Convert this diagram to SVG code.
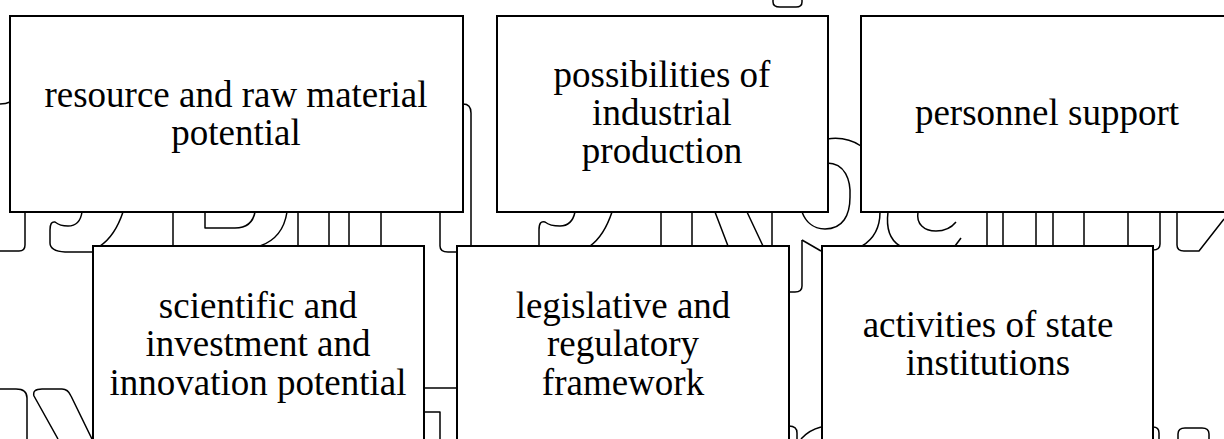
<svg xmlns="http://www.w3.org/2000/svg" width="1224" height="439" viewBox="0 0 1224 439">
<style>
.bg{fill:none;stroke:#000;stroke-width:1.5;stroke-linejoin:round;stroke-linecap:butt}
.box{fill:#fff;stroke:#000;stroke-width:2}
.lbl{font-family:"Liberation Serif","Times New Roman",serif;font-size:37px;fill:#000;text-anchor:middle}
</style>
<rect width="1224" height="439" fill="#fff"/>
<g id="background-letters" class="bg">
<path d="M0,104 Q6,104 10,102"/>
<path d="M25,212 L25,245 Q25,251 19,251 L0,251"/>
<path d="M82,212 Q80,226 68,226 Q60,226 55,222 Q50,221 50,230 L50,243 Q50,251 65,252 L93,252"/>
<path d="M123,212 Q115,236 100,246"/>
<path d="M173,212 L173,246"/>
<path d="M205,212 L205,228 L235,228 Q252,228 255,212"/>
<path d="M287,212 Q283,238 260,246"/>
<path d="M298,212 L298,246 M329,212 L329,246 M349,212 L349,246 M381,212 L381,246"/>
<path d="M440,212 L440,246 Q440,252 448,252 L457,252"/>
<path d="M463,104 Q471,104 471,113 L471,246"/>
<path d="M575,212 Q572,226 560,226 Q550,226 545,222 Q539,220 539,230 L539,246"/>
<path d="M612,212 Q604,236 590,246"/>
<path d="M661,212 L661,246 M692,212 L692,246"/>
<path d="M715,212 L728,246 M747,212 L763,246"/>
<path d="M772,212 L772,246"/>
<path d="M773,0 L773,2 Q773,7 780,7 L796,7 Q802,7 802,2 L802,0"/>
<path d="M827,139 C840,137 852,140 861,146"/>
<path d="M827,163 C845,163 851,180 850,197 C850,215 843,229 825,229 C812,229 805,220 802,212"/>
<path d="M880,212 C880,230 872,240 862,246"/>
<path d="M888,212 C886,228 890,240 900,246"/>
<path d="M918,212 C916,224 924,231 936,231 C945,231 952,227 956,222"/>
<path d="M961,238 L955,246"/>
<path d="M987,212 L987,246 M1003,212 L1003,246 M1036,212 L1036,246 M1053,212 L1053,246 M1084,212 L1084,246 M1128,212 L1128,246"/>
<path d="M1160,212 L1160,244 Q1160,250 1153,250"/>
<path d="M1177,212 L1177,245 Q1177,251 1184,251 L1199,251 L1224,219"/>
<path d="M802,240 L802,286 Q802,292 795,292 L789,292"/>
<path d="M802,240 L821,251"/>
<path d="M0,389 L16,389 Q27,389 27,398 L27,439"/>
<path d="M58,439 L34,396 Q32,389 42,389 L62,389 Q68,389 71,396 L92,439"/>
<path d="M424,388 L457,388"/>
<path d="M424,412 L440,412 L440,439"/>
<path d="M789,426 Q797,426 797,433 L797,439"/>
<path d="M801,439 Q809,430 821,427"/>
<path d="M1153,427 Q1159,427 1159,433 L1159,439"/>
<path d="M1178,439 L1178,434 Q1178,428 1185,428 L1202,428 Q1209,428 1209,434 L1209,439"/>
</g>
<g id="node-resource">
<rect class="box" x="10" y="16" width="453" height="196"/>
<text class="lbl" x="236" y="107">resource and raw material</text>
<text class="lbl" x="236" y="145">potential</text>
</g>
<g id="node-industrial">
<rect class="box" x="497" y="16" width="331" height="196"/>
<text class="lbl" x="662" y="87">possibilities of</text>
<text class="lbl" x="662" y="125">industrial</text>
<text class="lbl" x="662" y="163">production</text>
</g>
<g id="node-personnel">
<rect class="box" x="861" y="16" width="373" height="196"/>
<text class="lbl" x="1047" y="125">personnel support</text>
</g>
<g id="node-scientific">
<rect class="box" x="93" y="246" width="331" height="200"/>
<text class="lbl" x="258" y="318">scientific and</text>
<text class="lbl" x="258" y="356">investment and</text>
<text class="lbl" x="258" y="395">innovation potential</text>
</g>
<g id="node-legislative">
<rect class="box" x="457" y="246" width="332" height="200"/>
<text class="lbl" x="623" y="318">legislative and</text>
<text class="lbl" x="623" y="356">regulatory</text>
<text class="lbl" x="623" y="395">framework</text>
</g>
<g id="node-state">
<rect class="box" x="822" y="246" width="331" height="200"/>
<text class="lbl" x="988" y="337">activities of state</text>
<text class="lbl" x="988" y="375">institutions</text>
</g>
<g id="connectors"/>
</svg>
